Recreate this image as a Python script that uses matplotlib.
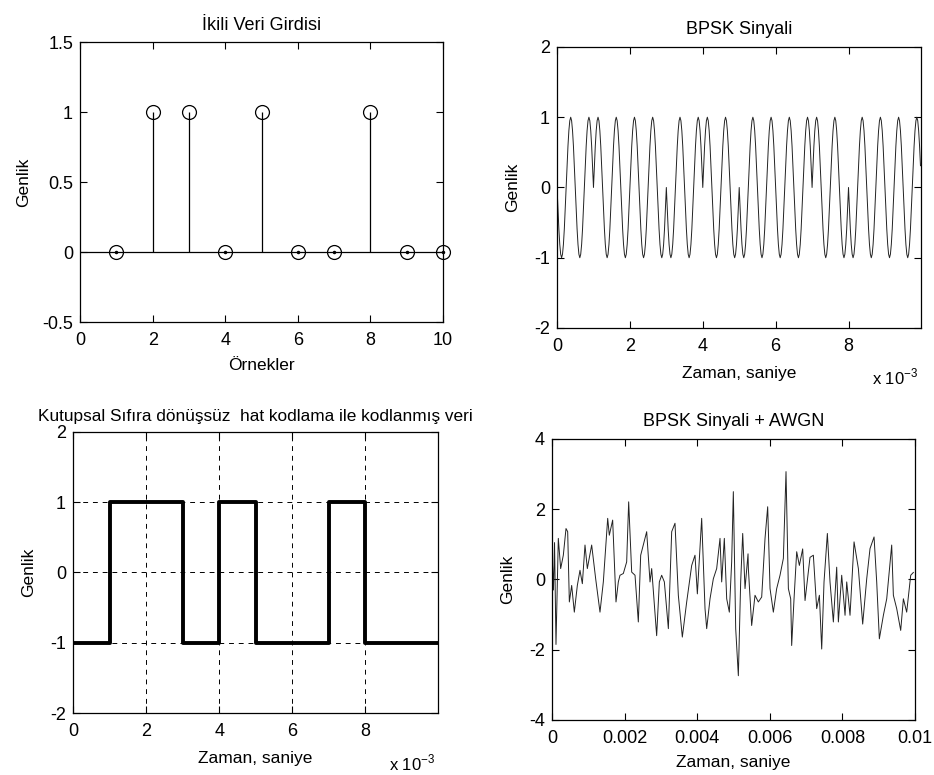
import numpy as np
import matplotlib
matplotlib.use("Agg")
import matplotlib.pyplot as plt

plt.rcParams['font.family'] = ['Liberation Sans', 'DejaVu Sans']
plt.rcParams['mathtext.fontset'] = 'custom'
plt.rcParams['mathtext.rm'] = 'Liberation Sans'
plt.rcParams['axes.unicode_minus'] = False

# ---- data ----
samples = [1, 2, 3, 4, 5, 6, 7, 8, 9, 10]
bits = [0, 1, 1, 0, 1, 0, 0, 1, 0, 0]
bit_period = 1e-3
cycles_per_bit = 2
# one 2 kHz carrier cycle, 20 samples
carrier_cycle = [0.0, 0.31, 0.59, 0.81, 0.95, 1.0, 0.95, 0.81, 0.59, 0.31,
                 0.0, -0.31, -0.59, -0.81, -0.95, -1.0, -0.95, -0.81, -0.59, -0.31]
t_end = 0.00999

# BPSK + AWGN, turning points (ms, amplitude)
awgn_t_ms = [0.0, 0.04, 0.07, 0.11, 0.174, 0.239, 0.312, 0.386, 0.432, 0.478, 0.542,
             0.615, 0.698, 0.771, 0.836, 0.909, 0.973, 1.093, 1.203, 1.322, 1.414,
             1.534, 1.579, 1.671, 1.763, 1.827, 1.873, 1.965, 2.057, 2.112, 2.195,
             2.287, 2.378, 2.443, 2.608, 2.700, 2.746, 2.883, 2.957, 3.021, 3.095,
             3.205, 3.297, 3.388, 3.480, 3.590, 3.710, 3.848, 3.939, 4.004, 4.123,
             4.215, 4.261, 4.353, 4.444, 4.536, 4.628, 4.674, 4.747, 4.812, 4.885,
             4.949, 4.995, 5.060, 5.133, 5.197, 5.253, 5.317, 5.40, 5.409, 5.500,
             5.592, 5.684, 5.776, 5.868, 5.941, 6.006, 6.097, 6.189, 6.281, 6.373,
             6.446, 6.511, 6.575, 6.602, 6.667, 6.740, 6.814, 6.905, 6.970, 7.107,
             7.199, 7.291, 7.365, 7.429, 7.493, 7.585, 7.658, 7.750, 7.842, 7.888,
             7.980, 8.072, 8.118, 8.209, 8.320, 8.439, 8.558, 8.669, 8.760, 8.871,
             8.944, 9.017, 9.128, 9.220, 9.357, 9.403, 9.495, 9.605, 9.679, 9.770,
             9.881, 9.954]
awgn_v = [0.8, -0.3, 1.05, -1.85, 1.17, 0.31, 0.69, 1.45, 1.36, -0.64, -0.17,
          -0.93, -0.17, 0.26, -0.12, 0.98, 0.31, 0.98, 0.02, -0.93, -0.07,
          1.74, 1.26, 1.69, -0.64, -0.07, 0.12, 0.17, 0.5, 2.21, 0.21,
          0.12, -1.21, 0.69, 1.36, -0.07, 0.31, -1.6, -0.07, 0.12, -0.07,
          -1.4, 1.36, 1.6, -0.45, -1.64, -0.64, 0.4, 0.69, -0.41, 1.74,
          -0.83, -1.4, -0.55, 0.02, 0.31, 1.17, -0.07, 1.17, -0.55, -0.93,
          0.5, 2.5, -1.4, -2.74, -0.07, 1.31, -0.26, 0.73, 0.31, -1.31,
          -0.45, -0.64, -0.5, 1.17, 2.07, -0.26, -0.93, -0.26, 0.12, 0.6,
          3.07, -0.26, -0.55, -1.88, -0.55, 0.79, 0.4, 0.87, -0.6, 0.63,
          0.69, -0.83, -0.45, -1.98, -0.07, 1.31, -0.07, -1.21, 0.35, -1.21,
          0.12, -1.02, -0.07, -1.02, 1.07, 0.31, -1.27, 0.02, 0.88, 1.21,
          -0.07, -1.69, -1.02, -0.55, 0.98, -0.45, -0.83, -1.45, -0.55, -0.93,
          0.12, 0.2]

# ---- derived series ----
levels = [2 * b - 1 for b in bits]
nrz_t = [i * bit_period for i in range(len(bits))] + [t_end]
nrz_y = levels + [levels[-1]]

per_bit = np.tile(carrier_cycle, cycles_per_bit)
bpsk = np.concatenate([lv * per_bit for lv in levels])
fs = len(per_bit) / bit_period
bpsk_t = np.arange(len(bpsk)) / fs

awgn_t = np.array(awgn_t_ms) * 1e-3

fig = plt.figure(figsize=(9.34, 7.75), dpi=100)
ax1 = fig.add_axes([0.0857, 0.5845, 0.3887, 0.3613])
ax2 = fig.add_axes([0.5964, 0.5768, 0.3897, 0.3626])
ax3 = fig.add_axes([0.0782, 0.0800, 0.3908, 0.3626])
ax4 = fig.add_axes([0.5910, 0.0710, 0.3887, 0.3626])

TFS = 13
LFS = 12.5
for ax in (ax1, ax2, ax3, ax4):
    ax.tick_params(direction='in', top=True, right=True, length=5, width=0.8,
                   labelsize=13)
    ax.tick_params(axis='x', pad=7)
    ax.tick_params(axis='y', pad=5)
    for s in ax.spines.values():
        s.set_linewidth(0.9)

# top-left: stem of binary input
ax1.set_xlim(0, 10)
ax1.set_ylim(-0.5, 1.5)
ml, sl, bl = ax1.stem(samples, bits, linefmt='k-', markerfmt='ko', basefmt='k-')
ml.set_markerfacecolor('none')
ml.set_markersize(10)
ml.set_markeredgewidth(0.9)
ml.set_clip_on(False)
sl.set_linewidth(0.9)
bl.set_linewidth(0.9)
bl.set_xdata(ax1.get_xlim())
zero_x = [s for s, b in zip(samples, bits) if b == 0]
ax1.plot(zero_x, [0] * len(zero_x), 'k.', ms=3, clip_on=False)
ax1.set_xticks([0, 2, 4, 6, 8, 10])
ax1.set_yticks([-0.5, 0, 0.5, 1, 1.5])
ax1.set_yticklabels(['-0.5', '0', '0.5', '1', '1.5'])
ax1.set_title('İkili Veri Girdisi', fontsize=TFS, pad=9)
ax1.set_xlabel('Örnekler', fontsize=LFS, labelpad=7)
ax1.set_ylabel('Genlik', fontsize=LFS, labelpad=8)

# top-right: BPSK signal
ax2.plot(bpsk_t, bpsk, color='#222222', lw=0.7)
ax2.set_xlim(0, t_end)
ax2.set_ylim(-2, 2)
xt = [0, 0.002, 0.004, 0.006, 0.008]
ax2.set_xticks(xt)
ax2.set_xticklabels(['0', '2', '4', '6', '8'])
ax2.set_yticks([-2, -1, 0, 1, 2])
ax2.set_title('BPSK Sinyali', fontsize=TFS, pad=9)
ax2.set_xlabel('Zaman, saniye', fontsize=LFS, labelpad=8)
ax2.set_ylabel('Genlik', fontsize=LFS, labelpad=10)
ax2.text(0.93, -0.175, r'x 10$^{\mathrm{-3}}$', transform=ax2.transAxes,
         fontsize=12, ha='center', va='center')

# bottom-left: polar NRZ
ax3.plot(nrz_t, nrz_y, color='black', lw=2.8, drawstyle='steps-post')
ax3.set_xlim(0, t_end)
ax3.set_ylim(-2, 2)
ax3.set_xticks(xt)
ax3.set_xticklabels(['0', '2', '4', '6', '8'])
ax3.set_yticks([-2, -1, 0, 1, 2])
ax3.grid(True, color='black', linestyle=(0, (5, 5)), linewidth=0.7)
ax3.set_title('Kutupsal Sıfıra dönüşsüz  hat kodlama ile kodlanmış veri',
              fontsize=12.4, pad=8)
ax3.set_xlabel('Zaman, saniye', fontsize=LFS, labelpad=8)
ax3.set_ylabel('Genlik', fontsize=LFS, labelpad=10)
ax3.text(0.93, -0.178, r'x 10$^{\mathrm{-3}}$', transform=ax3.transAxes,
         fontsize=12, ha='center', va='center')

# bottom-right: BPSK + AWGN
ax4.plot(awgn_t, awgn_v, color='#222222', lw=0.7)
ax4.set_xlim(0, 0.01)
ax4.set_ylim(-4, 4)
ax4.set_xticks([0, 0.002, 0.004, 0.006, 0.008, 0.01])
ax4.set_xticklabels(['0', '0.002', '0.004', '0.006', '0.008', '0.01'])
ax4.set_yticks([-4, -2, 0, 2, 4])
ax4.set_title('BPSK Sinyali + AWGN', fontsize=TFS, pad=9)
ax4.set_xlabel('Zaman, saniye', fontsize=LFS, labelpad=6)
ax4.set_ylabel('Genlik', fontsize=LFS, labelpad=10)

fig.savefig('out.png', dpi=100)
